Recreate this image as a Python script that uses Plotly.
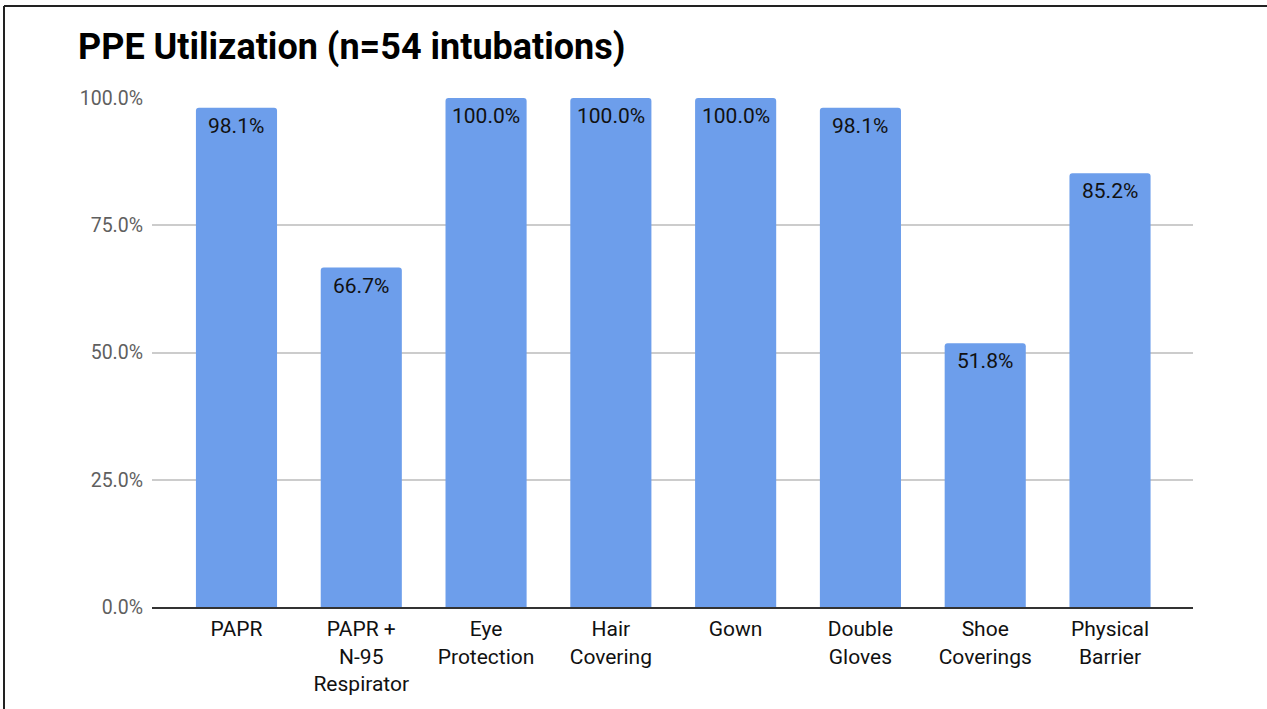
import plotly.graph_objects as go

categories = ["PAPR", "PAPR +<br>N-95<br>Respirator", "Eye<br>Protection", "Hair<br>Covering",
              "Gown", "Double<br>Gloves", "Shoe<br>Coverings", "Physical<br>Barrier"]
utilization = [0.981, 0.667, 1.0, 1.0, 1.0, 0.981, 0.518, 0.852]
y_ticks = [0, 0.25, 0.5, 0.75, 1.0]

W, H = 1267, 709
ML, MR, MT, MB = 152, 74, 98, 102
PW, PH = W - ML - MR, H - MT - MB

def px_x(p):
    return (p - ML) / PW

def px_y(p):
    return (H - MB - p) / PH

xs = list(range(len(categories)))

fig = go.Figure(go.Bar(
    x=xs,
    y=utilization,
    marker=dict(color="#6d9eeb", line=dict(width=0)),
    width=0.65,
    hoverinfo="skip",
))

for xi, v in zip(xs, utilization):
    fig.add_annotation(
        x=xi, y=v, xref="x", yref="y",
        text=f"{v * 100:.1f}%",
        showarrow=False, yanchor="middle", xanchor="center",
        yshift=-18,
        font=dict(family="Roboto", size=21, color="#111111"),
    )

fig.update_layout(
    width=W, height=H,
    margin=dict(l=ML, r=MR, t=MT, b=MB, pad=0),
    paper_bgcolor="white", plot_bgcolor="white",
    showlegend=False,
    barcornerradius=3,
    font=dict(family="Roboto", color="#111111"),
    title=dict(
        text="<b>PPE Utilization (n=54 intubations)</b>",
        font=dict(family="Roboto", size=36, color="#000000"),
        x=78 / W, xref="container", xanchor="left",
        y=1 - 46 / H, yref="container", yanchor="middle",
    ),
    xaxis=dict(
        tickmode="array",
        tickvals=xs,
        ticktext=categories,
        range=[-0.677, 7.665],
        showline=True, linecolor="#333333", linewidth=2,
        showgrid=False, zeroline=False,
        ticks="", tickfont=dict(family="Roboto", size=21, color="#111111"),
        ticklabelstandoff=2,
    ),
    yaxis=dict(
        range=[0, 1.0],
        tickvals=y_ticks,
        tickformat=".1%",
        showgrid=True, gridcolor="#cccccc", gridwidth=1.5,
        zeroline=False, showline=False,
        ticks="", tickfont=dict(family="Roboto", size=19.5, color="#5f5f5f"),
        ticklabelstandoff=8,
    ),
    shapes=[
        dict(type="line", xref="paper", yref="paper",
             x0=px_x(4), x1=px_x(W + 5), y0=px_y(6), y1=px_y(6),
             line=dict(color="#222222", width=2)),
        dict(type="line", xref="paper", yref="paper",
             x0=px_x(4), x1=px_x(4), y0=px_y(6), y1=px_y(H + 5),
             line=dict(color="#222222", width=2)),
    ],
)

fig.write_html("out.html")
